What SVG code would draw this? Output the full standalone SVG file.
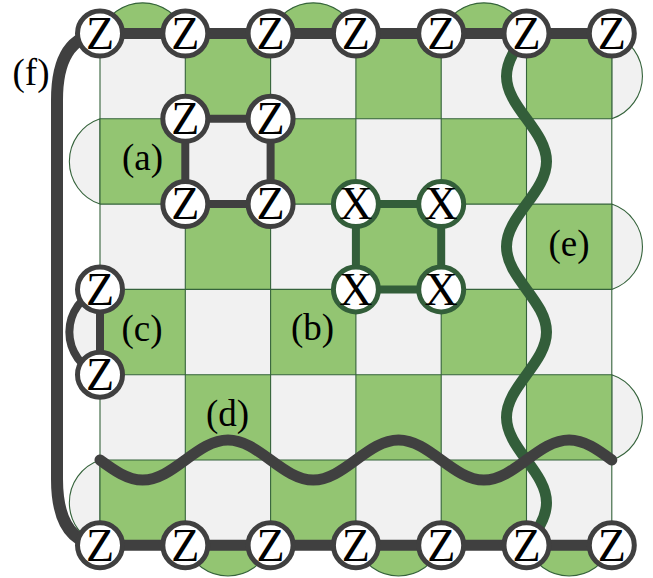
<svg xmlns="http://www.w3.org/2000/svg" width="653" height="578" viewBox="0 0 653 578">
<style>
.lt{fill:#f1f1f1}
.gr{fill:#93c572}
.seg{stroke:#35633b;stroke-width:1.1}
.grid{stroke:#35633b;stroke-width:1.1;fill:none}
.ge{fill:none;stroke:#404040;stroke-linecap:round;stroke-linejoin:round}
.de{fill:none;stroke:#335e3a;stroke-linecap:round;stroke-linejoin:round}
.zn circle{fill:#ffffff;stroke:#404040;stroke-width:5}
.xn circle{fill:#ffffff;stroke:#335e3a;stroke-width:5}
.nt{font-family:"Liberation Serif","Times New Roman",serif;font-size:46px;text-anchor:middle;fill:#000}
.lb{font-family:"Liberation Serif","Times New Roman",serif;font-size:37px;text-anchor:middle;fill:#000}
</style>
<g id="board">
<g id="boundary">
<path class="gr seg" d="M100,33.5 A45,45 0 0 1 185.3,33.5 Z"/>
<path class="gr seg" d="M270.6,33.5 A45,45 0 0 1 355.9,33.5 Z"/>
<path class="gr seg" d="M441.2,33.5 A45,45 0 0 1 526.5,33.5 Z"/>
<path class="gr seg" d="M270.6,545.3 A45,45 0 0 1 185.3,545.3 Z"/>
<path class="gr seg" d="M441.2,545.3 A45,45 0 0 1 355.9,545.3 Z"/>
<path class="gr seg" d="M611.8,545.3 A45,45 0 0 1 526.5,545.3 Z"/>
<path class="lt seg" d="M611.8,33.5 A45,45 0 0 1 611.8,118.8 Z"/>
<path class="lt seg" d="M611.8,204.1 A45,45 0 0 1 611.8,289.4 Z"/>
<path class="lt seg" d="M611.8,374.7 A45,45 0 0 1 611.8,460 Z"/>
<path class="lt seg" d="M100,204.1 A45,45 0 0 1 100,118.8 Z"/>
<path class="lt seg" d="M100,545.3 A45,45 0 0 1 100,460 Z"/>
</g>
<rect class="lt" x="100" y="33.5" width="511.8" height="511.8"/>
<g class="gr">
<rect x="185.3" y="33.5" width="85.3" height="85.3"/><rect x="355.9" y="33.5" width="85.3" height="85.3"/><rect x="526.5" y="33.5" width="85.3" height="85.3"/>
<rect x="100" y="118.8" width="85.3" height="85.3"/><rect x="270.6" y="118.8" width="85.3" height="85.3"/><rect x="441.2" y="118.8" width="85.3" height="85.3"/>
<rect x="185.3" y="204.1" width="85.3" height="85.3"/><rect x="355.9" y="204.1" width="85.3" height="85.3"/><rect x="526.5" y="204.1" width="85.3" height="85.3"/>
<rect x="100" y="289.4" width="85.3" height="85.3"/><rect x="270.6" y="289.4" width="85.3" height="85.3"/><rect x="441.2" y="289.4" width="85.3" height="85.3"/>
<rect x="185.3" y="374.7" width="85.3" height="85.3"/><rect x="355.9" y="374.7" width="85.3" height="85.3"/><rect x="526.5" y="374.7" width="85.3" height="85.3"/>
<rect x="100" y="460" width="85.3" height="85.3"/><rect x="270.6" y="460" width="85.3" height="85.3"/><rect x="441.2" y="460" width="85.3" height="85.3"/>
</g>
<path class="grid" d="M100,33.5 V545.3 M185.3,33.5 V545.3 M270.6,33.5 V545.3 M355.9,33.5 V545.3 M441.2,33.5 V545.3 M526.5,33.5 V545.3 M611.8,33.5 V545.3 M100,33.5 H611.8 M100,118.8 H611.8 M100,204.1 H611.8 M100,289.4 H611.8 M100,374.7 H611.8 M100,460 H611.8 M100,545.3 H611.8"/>
</g>
<g id="connectors">
<path id="e" class="de" stroke-width="11" d="M526.5,33.5 c -10.25,13.91 -20,27.34 -20,42.65 s 9.75,28.74 20,42.65 s 20,27.34 20,42.65 s -9.75,28.74 -20,42.65 s -20,27.34 -20,42.65 s 9.75,28.74 20,42.65 s 20,27.34 20,42.65 s -9.75,28.74 -20,42.65 s -20,27.34 -20,42.65 s 9.75,28.74 20,42.65 s 20,27.34 20,42.65 s -9.75,28.74 -20,42.65"/>
<path id="d" class="ge" stroke-width="11" d="M100,460 c 13.91,10.25 27.34,20 42.65,20 s 28.74,-9.75 42.65,-20 s 27.34,-20 42.65,-20 s 28.74,9.75 42.65,20 s 27.34,20 42.65,20 s 28.74,-9.75 42.65,-20 s 27.34,-20 42.65,-20 s 28.74,9.75 42.65,20 s 27.34,20 42.65,20 s 28.74,-9.75 42.65,-20 s 27.34,-20 42.65,-20 s 28.74,9.75 42.65,20"/>
<path id="top" class="ge" stroke-width="11" d="M100,33.5 H611.8"/>
<path id="bottom" class="ge" stroke-width="11" d="M100,545.3 H611.8"/>
<path id="f" class="ge" stroke-width="12" d="M100,33.5 C70,36 57,60 57,100 L57,479 C57,519 70,543 100,545.3"/>
<path id="a" class="ge" stroke-width="8" d="M185.3,118.8 H270.6 V204.1 H185.3 Z"/>
<path id="b" class="de" stroke-width="8" d="M355.9,204.1 H441.2 V289.4 H355.9 Z"/>
<path id="c-arc" class="ge" stroke-width="8" style="fill:#f1f1f1" d="M100,289.4 A45,45 0 0 0 100,374.7"/>
<path id="c-line" class="ge" stroke-width="8" d="M100,289.4 V374.7"/>
</g>
<g id="labels">
<text class="lb" x="31" y="85">(f)</text>
<text class="lb" x="142.6" y="170">(a)</text>
<text class="lb" x="312.5" y="340">(b)</text>
<text class="lb" x="142" y="341">(c)</text>
<text class="lb" x="227.5" y="426">(d)</text>
<text class="lb" x="569" y="256">(e)</text>
</g>
<g id="nodes">
<g id="zt0" class="zn"><circle cx="100" cy="33.5" r="22.5"/><text class="nt" x="100" y="48.8">Z</text></g>
<g id="zt1" class="zn"><circle cx="185.3" cy="33.5" r="22.5"/><text class="nt" x="185.3" y="48.8">Z</text></g>
<g id="zt2" class="zn"><circle cx="270.6" cy="33.5" r="22.5"/><text class="nt" x="270.6" y="48.8">Z</text></g>
<g id="zt3" class="zn"><circle cx="355.9" cy="33.5" r="22.5"/><text class="nt" x="355.9" y="48.8">Z</text></g>
<g id="zt4" class="zn"><circle cx="441.2" cy="33.5" r="22.5"/><text class="nt" x="441.2" y="48.8">Z</text></g>
<g id="zt5" class="zn"><circle cx="526.5" cy="33.5" r="22.5"/><text class="nt" x="526.5" y="48.8">Z</text></g>
<g id="zt6" class="zn"><circle cx="611.8" cy="33.5" r="22.5"/><text class="nt" x="611.8" y="48.8">Z</text></g>
<g id="zb0" class="zn"><circle cx="100" cy="545.3" r="22.5"/><text class="nt" x="100" y="560.6">Z</text></g>
<g id="zb1" class="zn"><circle cx="185.3" cy="545.3" r="22.5"/><text class="nt" x="185.3" y="560.6">Z</text></g>
<g id="zb2" class="zn"><circle cx="270.6" cy="545.3" r="22.5"/><text class="nt" x="270.6" y="560.6">Z</text></g>
<g id="zb3" class="zn"><circle cx="355.9" cy="545.3" r="22.5"/><text class="nt" x="355.9" y="560.6">Z</text></g>
<g id="zb4" class="zn"><circle cx="441.2" cy="545.3" r="22.5"/><text class="nt" x="441.2" y="560.6">Z</text></g>
<g id="zb5" class="zn"><circle cx="526.5" cy="545.3" r="22.5"/><text class="nt" x="526.5" y="560.6">Z</text></g>
<g id="zb6" class="zn"><circle cx="611.8" cy="545.3" r="22.5"/><text class="nt" x="611.8" y="560.6">Z</text></g>
<g id="za0" class="zn"><circle cx="185.3" cy="118.8" r="22.5"/><text class="nt" x="185.3" y="134.1">Z</text></g>
<g id="za1" class="zn"><circle cx="270.6" cy="118.8" r="22.5"/><text class="nt" x="270.6" y="134.1">Z</text></g>
<g id="za2" class="zn"><circle cx="185.3" cy="204.1" r="22.5"/><text class="nt" x="185.3" y="219.4">Z</text></g>
<g id="za3" class="zn"><circle cx="270.6" cy="204.1" r="22.5"/><text class="nt" x="270.6" y="219.4">Z</text></g>
<g id="xb0" class="xn"><circle cx="355.9" cy="204.1" r="22.5"/><text class="nt" x="355.9" y="219.4">X</text></g>
<g id="xb1" class="xn"><circle cx="441.2" cy="204.1" r="22.5"/><text class="nt" x="441.2" y="219.4">X</text></g>
<g id="xb2" class="xn"><circle cx="355.9" cy="289.4" r="22.5"/><text class="nt" x="355.9" y="304.7">X</text></g>
<g id="xb3" class="xn"><circle cx="441.2" cy="289.4" r="22.5"/><text class="nt" x="441.2" y="304.7">X</text></g>
<g id="zc0" class="zn"><circle cx="100" cy="289.4" r="22.5"/><text class="nt" x="100" y="304.7">Z</text></g>
<g id="zc1" class="zn"><circle cx="100" cy="374.7" r="22.5"/><text class="nt" x="100" y="389.7">Z</text></g>
</g>
</svg>
